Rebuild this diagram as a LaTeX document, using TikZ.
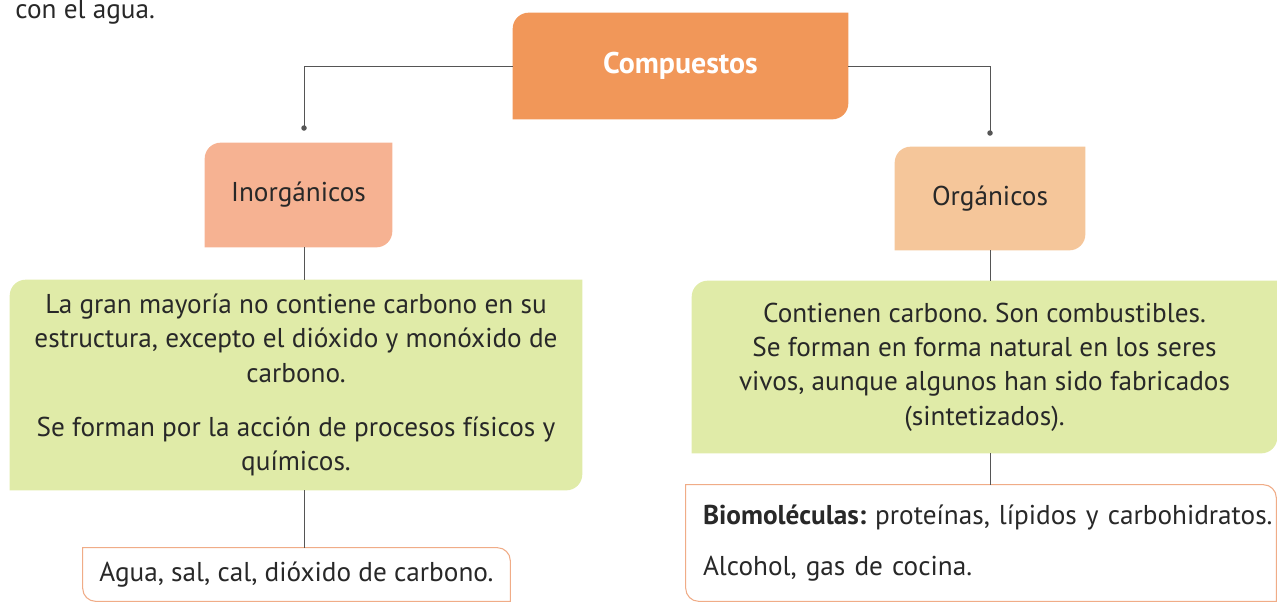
\documentclass[tikz,border=0pt]{standalone}
\usepackage{fontspec}
\setmainfont{PT Sans}
\frenchspacing
\usetikzlibrary{backgrounds}

\definecolor{compc}{RGB}{241,151,89}
\definecolor{inorgc}{RGB}{246,178,146}
\definecolor{orgc}{RGB}{245,198,154}
\definecolor{greenc}{RGB}{224,235,168}
\definecolor{edgec}{RGB}{240,172,135}
\definecolor{linkc}{RGB}{85,85,85}
\definecolor{txtc}{RGB}{40,40,40}

\begin{document}
\begin{tikzpicture}[
    x=0.02cm, y=-0.02cm,
    font=\fontsize{15.5}{19.6}\selectfont,
    box/.style={inner sep=0pt, text=txtc, align=center},
    head/.style={box, text=white, font=\fontsize{17}{20}\selectfont\bfseries},
    link/.style={draw=linkc, line width=0.5pt}
]
    \useasboundingbox (0,0) rectangle (1277,603);
    \clip (0,0) rectangle (1277,603);

    \node[box, anchor=base west] (prev) at (15,18) {con el agua.};

    \node[head, minimum width=6.7cm, minimum height=2.12cm] (comp) at (680.5,66) {Compuestos};
    \node[box, minimum width=3.74cm, minimum height=2.08cm] (inorg) at (298.5,195) {Inorgánicos};
    \node[box, minimum width=3.8cm, minimum height=2.06cm] (org) at (990,198.5) {Orgánicos};

    \node[box, minimum width=11.44cm, minimum height=4.2cm] (inorgtxt) at (296,385)
        {La gran mayoría no contiene carbono en su\\
         estructura, excepto el dióxido y monóxido de\\
         carbono.\\[11pt]
         Se forman por la acción de procesos físicos y\\
         químicos.};
    \node[box, minimum width=11.7cm, minimum height=3.44cm] (orgtxt) at (984.5,367)
        {Contienen carbono. Son combustibles.\\
         Se forman en forma natural en los seres\\
         vivos, aunque algunos han sido fabricados\\
         (sintetizados).};

    \node[box, minimum width=8.54cm, minimum height=1.06cm] (inorgex) at (296.5,574.5)
        {Agua, sal, cal, dióxido de carbono.};
    \node[box, align=left, text width=11.12cm, inner xsep=0.34cm, minimum height=2.32cm] (orgex) at (981,543)
        {\mbox{\textbf{Biomoléculas:} proteínas, lípidos y carbohidratos.}\\[9pt]
         Alcohol, gas de cocina.};

    \coordinate (inorgdot) at (304,128);
    \coordinate (orgdot) at (990,133);

    % box backgrounds
    \begin{scope}[on background layer]
        \foreach \n/\c in {comp/compc, inorg/inorgc, org/orgc, inorgtxt/greenc, orgtxt/greenc}
            \fill[\c] (\n.south west) -- ([yshift=-0.32cm]\n.north west)
                arc[start angle=180, end angle=90, radius=0.32cm] -- (\n.north east)
                -- ([yshift=0.32cm]\n.south east)
                arc[start angle=0, end angle=-90, radius=0.32cm] -- cycle;
        \foreach \n in {inorgex, orgex}
            \draw[edgec, fill=white, line width=0.6pt] (\n.north west) -- ([xshift=-0.26cm]\n.north east)
                arc[start angle=90, end angle=0, radius=0.26cm] -- (\n.south east)
                -- ([xshift=0.26cm]\n.south west)
                arc[start angle=270, end angle=180, radius=0.26cm] -- cycle;
    \end{scope}

    % connectors
    \draw[link] (comp.west) -| (inorgdot);
    \draw[link] (comp.east) -| (orgdot);
    \fill[linkc] (inorgdot) circle[radius=0.055cm];
    \fill[linkc] (orgdot) circle[radius=0.055cm];
    \draw[link] (inorgdot |- inorg.south) -- (inorgdot |- inorgtxt.north);
    \draw[link] (inorgdot |- inorgtxt.south) -- (inorgdot |- inorgex.north);
    \draw[link] (org.south) -- (org.south |- orgtxt.north);
    \draw[link] (org.south |- orgtxt.south) -- (org.south |- orgex.north);
\end{tikzpicture}
\end{document}
